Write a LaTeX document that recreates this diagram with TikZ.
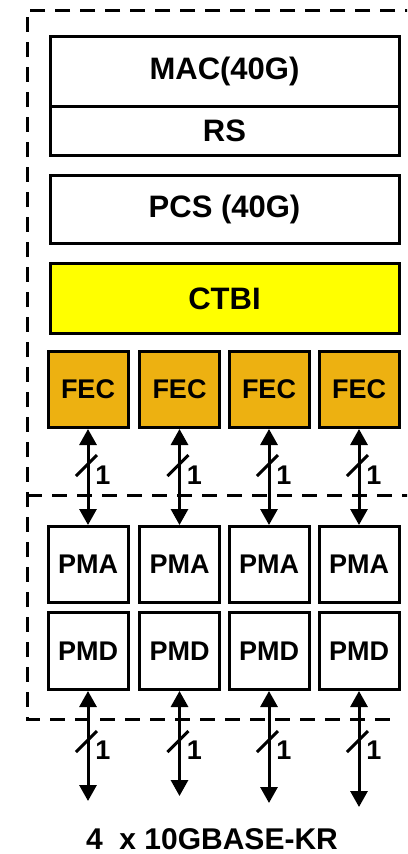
\documentclass[tikz,border=0pt]{standalone}
\usepackage{fontspec}
\setmainfont{Liberation Sans}
\usetikzlibrary{calc,arrows.meta}

\definecolor{fecorange}{RGB}{237,177,17}
\definecolor{ctbiyellow}{RGB}{255,255,0}

\tikzset{
  layer/.style={draw,line width=3pt,minimum width=349pt,anchor=north west,inner sep=0pt,
    font=\fontsize{31}{31}\selectfont\bfseries},
  lane/.style={draw,line width=3pt,minimum width=80pt,anchor=north west,inner sep=0pt,
    font=\fontsize{27}{27}\selectfont\bfseries},
  border/.style={line width=3pt,dash pattern=on 15pt off 10pt},
  link/.style={line width=3pt,{Triangle[length=16pt,width=17pt]}-{Triangle[length=16pt,width=17pt]}},
  tick/.style={line width=3pt},
  width/.style={font=\fontsize{27}{27}\selectfont\bfseries},
}

\begin{document}
\begin{tikzpicture}[x=1pt,y=-1pt]
\useasboundingbox (0,0) rectangle (407,854);
\clip (0,0) rectangle (407,854);

% dashed frame, open on the right
\draw[border] (420,10) -- (27,10) -- (27,719) -- (397,719);
\draw[border] (27,495) -- (420,495);

% 40G layers
\node[layer,minimum height=70pt] (mac) at (48.5,35) {MAC(40G)};
\node[layer,minimum height=49pt] (rs) at (48.5,105) {RS};
\node[layer,minimum height=68pt] (pcs) at (48.5,174) {PCS (40G)};
\node[layer,minimum height=70pt,fill=ctbiyellow] (ctbi) at (48.5,262) {CTBI};

% four lanes
\foreach \i/\x/\e in {1/46.5/798,2/138/793,3/227.5/800,4/317.5/804}{
  \node[lane,minimum height=76pt,fill=fecorange] (fec\i) at (\x,350) {FEC};
  \node[lane,minimum height=76pt] (pma\i) at (\x,525) {PMA};
  \node[lane,minimum height=77pt] (pmd\i) at (\x,611) {PMD};
  \coordinate (out\i) at ($(pmd\i.south)+(0,\e-688)$);
  \draw[link] (fec\i.south) -- (pma\i.north);
  \draw[link] (pmd\i.south) -- (out\i);
  % lane width marks
  \draw[tick] ($(fec\i.south)+(-12,47)$) -- ++(21,-21);
  \node[width] (wa\i) at ($(fec\i.south)+(15,46)$) {1};
  \draw[tick] ($(pmd\i.south)+(-12,61)$) -- ++(21,-21);
  \node[width] (wb\i) at ($(pmd\i.south)+(15,59)$) {1};
}

\node[font=\fontsize{30}{30}\selectfont\bfseries] (phy) at (212,839) {4\ \ x 10GBASE-KR};
\end{tikzpicture}
\end{document}
